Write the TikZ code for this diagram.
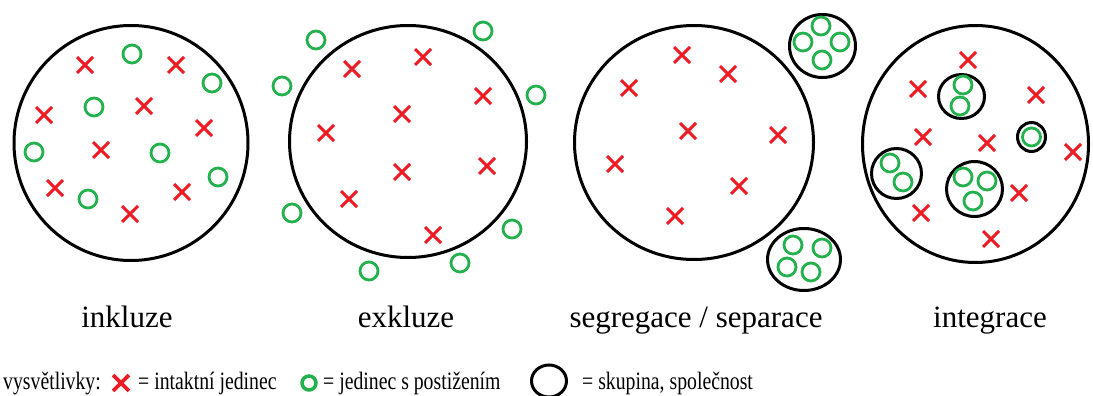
\documentclass[tikz,border=0pt]{standalone}
\usepackage{fontspec}
\setmainfont{Liberation Serif}
\newfontfamily\legfont[FakeStretch=0.79]{Liberation Serif}
\usetikzlibrary{shapes.geometric,shapes.misc}
\definecolor{pred}{HTML}{ED1C24}
\definecolor{pgreen}{HTML}{22B14C}
\tikzset{
  bigc/.style={ellipse, draw=black, line width=3pt, inner sep=0pt},
  xm/.style={cross out, draw=pred, line width=3pt, minimum size=13pt, inner sep=0pt},
  om/.style={circle, draw=pgreen, line width=2.8pt, minimum size=18pt, inner sep=0pt},
  lab/.style={anchor=base, inner sep=0pt, font=\fontsize{31}{31}\selectfont},
  leg/.style={anchor=base west, inner sep=0pt, font=\legfont\fontsize{25}{25}\selectfont}
}
\begin{document}
\begin{tikzpicture}[x=1pt,y=-1pt]
\useasboundingbox (0,0) rectangle (1093,396);

% ---------- inkluze ----------
\node[bigc, minimum width=234pt, minimum height=235pt] (inkl) at (131,143) {};
\foreach \x/\y [count=\i] in {85/65,176/65,44/115,144/106,204/128,101/150,55/188,182/192,130/214}
  \node[xm] (inkl-x\i) at (\x,\y) {};
\foreach \x/\y [count=\i] in {132/54,212/83,94/107,34/152,160/153,218/177,88/199}
  \node[om] (inkl-o\i) at (\x,\y) {};
\node[lab] (t-inkl) at (127,327) {inkluze};

% ---------- exkluze ----------
\node[bigc, minimum width=237pt, minimum height=232pt] (exkl) at (408,141.5) {};
\foreach \x/\y [count=\i] in {352/69,423/57,483/96,402/114,326/133,402/172,487/166,349/199,433/235}
  \node[xm] (exkl-x\i) at (\x,\y) {};
\foreach \x/\y [count=\i] in {316/40,483/31,282/86,536/95,292/213,512/229,460/263,369/271}
  \node[om] (exkl-o\i) at (\x,\y) {};
\node[lab] (t-exkl) at (406,327) {exkluze};

% ---------- segregace / separace ----------
\node[bigc, minimum width=239pt, minimum height=234pt] (segr) at (694,142.5) {};
\foreach \x/\y [count=\i] in {682/55,728/74,629/88,688/131,778/135,615/164,739/186,675/216}
  \node[xm] (segr-x\i) at (\x,\y) {};
\node[bigc, minimum width=66pt, minimum height=63pt] (segr-g1) at (822.5,46) {};
\foreach \x/\y [count=\i] in {821/26,803/42,840/42,822/60}
  \node[om] (segr-g1-o\i) at (\x,\y) {};
\node[bigc, minimum width=73pt, minimum height=62pt] (segr-g2) at (804,259.5) {};
\foreach \x/\y [count=\i] in {793/245,822/248,787/267,811/272}
  \node[om] (segr-g2-o\i) at (\x,\y) {};
\node[lab] (t-segr) at (696,327) {segregace / separace};

% ---------- integrace ----------
\node[bigc, minimum width=226pt, minimum height=237pt] (integ) at (975.5,144) {};
\foreach \x/\y [count=\i] in {968/60,918/89,1036/95,923/137,987/143,1073/152,1019/193,921/213,991/239}
  \node[xm] (integ-x\i) at (\x,\y) {};
\node[bigc, minimum width=46pt, minimum height=44pt] (integ-g1) at (961.5,96.5) {};
\node[om] (integ-g1-o1) at (963,85) {};
\node[om] (integ-g1-o2) at (960,106) {};
\node[bigc, minimum width=28pt, minimum height=29pt] (integ-g2) at (1031.5,137) {};
\node[om] (integ-g2-o1) at (1031.5,137) {};
\node[bigc, minimum width=50pt, minimum height=50pt] (integ-g3) at (896.5,173.5) {};
\node[om] (integ-g3-o1) at (890,163) {};
\node[om] (integ-g3-o2) at (903,182) {};
\node[bigc, minimum width=56pt, minimum height=55pt] (integ-g4) at (974.5,189) {};
\node[om] (integ-g4-o1) at (963,177) {};
\node[om] (integ-g4-o2) at (987,181) {};
\node[om] (integ-g4-o3) at (973,201) {};
\node[lab] (t-integ) at (990,327) {integrace};

% ---------- legend ----------
\node[leg] (l-title) at (3,389) {vysvětlivky:};
\node[xm, line width=3.8pt, minimum size=12pt] (l-x) at (121,383) {};
\node[leg] (l-xt) at (138,389) {= intaktní jedinec};
\node[om, line width=3.5pt, minimum size=14pt] (l-o) at (309,383) {};
\node[leg] (l-ot) at (323,389) {= jedinec s postižením};
\node[bigc, minimum width=35pt, minimum height=32pt] (l-g) at (549,381) {};
\node[leg] (l-gt) at (582,389) {= skupina, společnost};
\end{tikzpicture}
\end{document}
